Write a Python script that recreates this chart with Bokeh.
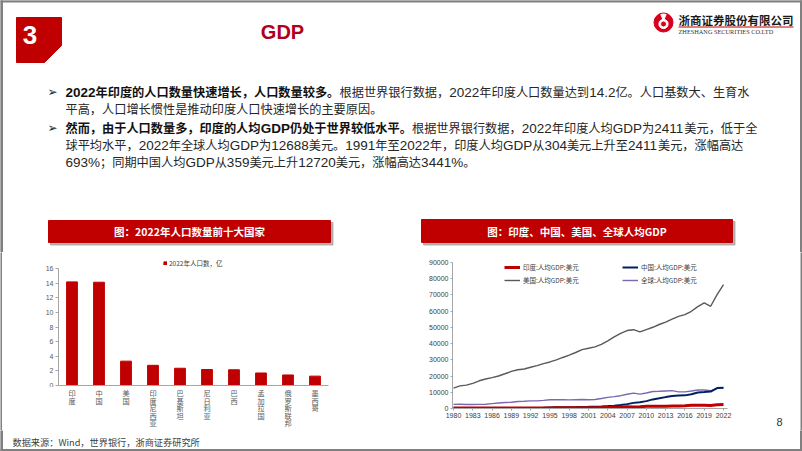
from bokeh.plotting import figure
from bokeh.layouts import column, row
from bokeh.models import (Range1d, ColumnDataSource, Legend, LegendItem, FactorRange,
                          FixedTicker, NumeralTickFormatter)
from bokeh.embed import file_html
from bokeh.resources import INLINE
from bokeh.core.properties import value

# ---------------- data ----------------
countries = ["印度", "中国", "美国", "印度尼西亚", "巴基斯坦", "尼日利亚", "巴西", "孟加拉国", "俄罗斯联邦", "墨西哥"]
population = [14.17, 14.12, 3.33, 2.76, 2.36, 2.19, 2.15, 1.71, 1.44, 1.28]
pop_label = "2022年人口数，亿"

years = list(range(1980, 2023))
india_gdp = [267, 271, 274, 291, 277, 296, 310, 340, 354, 346, 368, 304, 317, 302, 346, 374, 400, 415, 413, 442,
             443, 452, 471, 547, 628, 715, 807, 1028, 999, 1102, 1358, 1458, 1444, 1450, 1574, 1590, 1714, 1958,
             1974, 2050, 1916, 2257, 2411]
china_gdp = [195, 197, 203, 225, 250, 294, 282, 252, 284, 311, 318, 334, 366, 377, 473, 610, 709, 782, 829, 873,
             959, 1053, 1149, 1289, 1509, 1753, 2099, 2694, 3468, 3832, 4550, 5614, 6301, 7020, 7636, 8016, 8094,
             8817, 9905, 10144, 10409, 12618, 12720]
us_gdp = [12553, 13949, 14405, 15514, 17086, 18200, 19073, 20039, 21417, 22857, 23889, 24342, 25419, 26387, 27695,
          28691, 29968, 31459, 32854, 34515, 36330, 37134, 37998, 39490, 41725, 44123, 46302, 48050, 48570, 47195,
          48651, 50066, 51784, 53291, 55124, 56763, 57867, 59915, 62805, 65095, 63028, 70249, 76330]
world_gdp = [2560, 2592, 2509, 2495, 2530, 2601, 3008, 3378, 3707, 3827, 4290, 4444, 4720, 4711, 5001, 5432, 5487,
             5400, 5286, 5427, 5532, 5394, 5546, 6177, 6886, 7352, 7898, 8776, 9480, 8853, 9568, 10510, 10631,
             10817, 11001, 10226, 10268, 10800, 11400, 11380, 10920, 12430, 12688]
series_names = ["印度:人均GDP:美元", "中国:人均GDP:美元", "美国:人均GDP:美元", "全球:人均GDP:美元"]
year_ticks = list(range(1980, 2023, 3))
pop_ticks = list(range(0, 17, 2))
gdp_ticks = list(range(0, 90001, 10000))

section_no = "3"
page_title = "GDP"
company_cn = "浙商证券股份有限公司"
company_en = "ZHESHANG SECURITIES CO.LTD"
chart1_title = "图：2022年人口数量前十大国家"
chart2_title = "图：印度、中国、美国、全球人均GDP"
source_text = "数据来源：Wind，世界银行，浙商证券研究所"
page_no = "8"
body_lines = [
    [("2022年印度的人口数量快速增长，人口数量较多。", True),
     ("根据世界银行数据，2022年印度人口数量达到14.2亿。人口基数大、生育水", False)],
    [("平高，人口增长惯性是推动印度人口快速增长的主要原因。", False)],
    [("然而，由于人口数量多，印度的人均GDP仍处于世界较低水平。", True),
     ("根据世界银行数据，2022年印度人均GDP为2411美元，低于全", False)],
    [("球平均水平，2022年全球人均GDP为12688美元。1991年至2022年，印度人均GDP从304美元上升至2411美元，涨幅高达", False)],
    [("693%；同期中国人均GDP从359美元上升12720美元，涨幅高达3441%。", False)],
]

# ---------------- styles ----------------
RED = "#C00000"
BORDER = "#808080"
CJK = value("Noto Sans CJK SC")
LAT = value("Liberation Sans")
ARIAL_W = {"G": 0.778, "D": 0.722, "P": 0.667, ".": 0.278, "%": 0.889}


def blank(w, h, xr, yr):
    f = figure(width=w, height=h, x_range=xr, y_range=yr, toolbar_location=None,
               output_backend="svg", x_axis_type=None, y_axis_type=None, min_border=0)
    f.grid.visible = False
    f.outline_line_color = None
    return f


def runs(s):
    out = []
    for ch in s:
        lat = ord(ch) < 0x2000
        if out and out[-1][1] == lat:
            out[-1][0] += ch
        else:
            out.append([ch, lat])
    return out


# ---------------- header figure ----------------
HH = 252
head = blank(802, HH, Range1d(0, 802), Range1d(HH, 0))
head.quad(left=[0, 0, 800], right=[802, 2, 802], top=[0, 0, 0], bottom=[1.5, HH, HH], color=BORDER)
head.patch(x=[16, 61, 61, 44, 16], y=[17, 17, 45, 62, 62], color=RED)
head.text(x=[29.5], y=[34], text=[section_no], text_font=LAT, text_font_style="bold",
          text_font_size="26px", text_color="white", text_align="center", text_baseline="middle")
head.text(x=[282], y=[31.5], text=[page_title], text_font=LAT, text_font_style="bold",
          text_font_size="20px", text_color="#B0001E", text_align="center", text_baseline="middle")
# logo
head.circle(x=[663], y=[22], radius=9.5, color="#D6001C")
head.annulus(x=[663], y=[23.5], inner_radius=3.0, outer_radius=4.6, color="white")
head.wedge(x=[663], y=[20], radius=6.5, start_angle=1.15, end_angle=2.0, color="white")
head.text(x=[678], y=[19], text=[company_cn], text_font=CJK, text_font_style="bold",
          text_font_size="11.5px", text_color="#1A1A1A", text_align="left", text_baseline="middle")
head.segment(x0=[678], y0=[26.5], x1=[793], y1=[26.5], color="#C00000", line_width=1)
head.text(x=[678], y=[31], text=[company_en], text_font=value("Liberation Serif"),
          text_font_size="6.3px", text_color="#333333", text_align="left", text_baseline="middle")

# bullets + body text (CJK runs in Noto Sans CJK, Latin runs in Liberation Sans)
FS = 12.2
LS = 13.5
line_y = [91, 108, 127, 144, 161]
head.text(x=[47, 47], y=[91, 127], text=["➢", "➢"], text_font=value("DejaVu Sans"),
          text_font_size="12px", text_color="#222222", text_align="left", text_baseline="middle")
for segs, yy in zip(body_lines, line_y):
    x0 = 65
    for s, b in segs:
        for txt, lat in runs(s):
            head.text(x=[x0], y=[yy + (0.5 if lat else 0)], text=[txt], text_font=LAT if lat else CJK,
                      text_font_style="bold" if b else "normal",
                      text_font_size=f"{LS if lat else FS}px", text_color="#111111" if b else "#262626",
                      text_align="left", text_baseline="middle")
            if lat:
                x0 += sum(ARIAL_W.get(c, 0.556) for c in txt) * LS
            else:
                x0 += len(txt) * FS

# chart title bars
for (l, r, t, b, ttl) in [(48, 330, 220, 242, chart1_title), (421, 732, 219, 242, chart2_title)]:
    head.quad(left=[l + 2], right=[r + 2.5], top=[t + 2], bottom=[b + 2.5], color="#9A9A9A", alpha=0.7)
    head.quad(left=[l], right=[r], top=[t], bottom=[b], color=RED)
    head.text(x=[(l + r) / 2], y=[(t + b) / 2], text=[ttl], text_font=CJK, text_font_style="bold",
              text_font_size="10.5px", text_color="white", text_align="center", text_baseline="middle")

# ---------------- bottom row ----------------
RH = 178


def strip(w):
    f = blank(w, RH, Range1d(0, 1), Range1d(0, 1))
    f.background_fill_color = BORDER
    f.border_fill_color = BORDER
    return f


# left bar chart (frame: page y 259..385; value 16 at page y 268)
PX_PER_UNIT = (385 - 268) / 16.0
top_extra = (268 - 259) / PX_PER_UNIT
xr = FactorRange(*countries, range_padding=0)
pl = figure(width=398, height=135, x_range=xr, y_range=Range1d(0, 16 + top_extra), toolbar_location=None,
            output_backend="svg", min_border_left=56, min_border_right=72, min_border_top=7,
            min_border_bottom=2)
src = ColumnDataSource(dict(c=countries, v=population))
bars = pl.vbar(x="c", top="v", width=0.4, source=src, color=RED)
pl.grid.visible = False
pl.outline_line_color = None
pl.yaxis.ticker = FixedTicker(ticks=pop_ticks)
pl.yaxis.bounds = (0, 16)
pl.yaxis.minor_tick_line_color = None
pl.yaxis.major_tick_in = 0
pl.yaxis.major_tick_out = 3
pl.yaxis.major_label_standoff = 2
pl.yaxis.major_label_text_font = "Liberation Sans"
pl.yaxis.major_label_text_font_size = "7px"
pl.yaxis.major_label_text_color = "#595959"
pl.yaxis.axis_line_color = "#A6A6A6"
pl.yaxis.major_tick_line_color = "#A6A6A6"
pl.xaxis.ticker = FixedTicker(ticks=[])
pl.xaxis.axis_line_color = "#A6A6A6"
pl.xaxis.major_tick_line_color = None
pl.xaxis.major_tick_out = 0
pl.xaxis.major_label_standoff = 0
leg1 = Legend(items=[LegendItem(label=pop_label, renderers=[bars])], location=(105, 117),
              label_text_font_size="6.5px", label_text_font="Noto Sans CJK SC", label_text_color="#404040",
              glyph_width=4, glyph_height=4, label_standoff=2, padding=0, margin=0, label_height=8,
              background_fill_alpha=0, border_line_color=None)
pl.add_layout(leg1)

# vertical (stacked) category labels, positioned on the shared category scale
LH = RH - 135
lab = figure(width=398, height=LH, x_range=xr, y_range=Range1d(LH, 0), toolbar_location=None,
             output_backend="svg", x_axis_type=None, y_axis_type=None,
             min_border_left=56, min_border_right=72, min_border_top=0, min_border_bottom=0)
lab.grid.visible = False
lab.outline_line_color = None
cx, cy, ct = [], [], []
for c in countries:
    for k, ch in enumerate(c):
        cx.append(c)
        cy.append(5.5 + 7.6 * k)
        ct.append(ch)
lab.text(x=cx, y=cy, text=ct, text_font=CJK, text_font_size="7.2px", text_color="#595959",
         text_align="center", text_baseline="middle")

# right line chart (frame: page y 262..408)
pr = figure(width=345, height=RH, x_range=Range1d(1979.844, 2022.62), y_range=Range1d(0, 90000),
            toolbar_location=None, output_backend="svg",
            min_border_left=52, min_border_right=18, min_border_top=10, min_border_bottom=22)
pr.grid.visible = False
pr.outline_line_color = None
r_us = pr.line(years, us_gdp, color="#595959", line_width=1.4)
r_world = pr.line(years, world_gdp, color="#7B68B0", line_width=1.4)
r_china = pr.line(years, china_gdp, color="#002060", line_width=2)
r_india = pr.line(years, india_gdp, color=RED, line_width=3)
pr.xaxis.ticker = FixedTicker(ticks=year_ticks)
pr.yaxis.ticker = FixedTicker(ticks=gdp_ticks)
pr.yaxis.formatter = NumeralTickFormatter(format="0")
for ax in (pr.xaxis, pr.yaxis):
    ax.axis_line_color = "#A6A6A6"
    ax.major_tick_line_color = "#A6A6A6"
    ax.major_tick_in = 0
    ax.major_tick_out = 2
    ax.minor_tick_line_color = None
    ax.major_label_standoff = 2
    ax.major_label_text_font = "Liberation Sans"
    ax.major_label_text_font_size = "7px"
    ax.major_label_text_color = "#404040"
leg2 = Legend(items=[LegendItem(label=series_names[0], renderers=[r_india]),
                     LegendItem(label=series_names[1], renderers=[r_china]),
                     LegendItem(label=series_names[2], renderers=[r_us]),
                     LegendItem(label=series_names[3], renderers=[r_world])],
              orientation="horizontal", ncols=2, location=(52, 123),
              label_text_font_size="6.5px", label_text_font="Noto Sans CJK SC", label_text_color="#404040",
              glyph_width=16, glyph_height=8, label_standoff=3, padding=0, margin=0, spacing=3,
              label_height=10, label_width=96, background_fill_alpha=0, border_line_color=None)
pr.add_layout(leg2)

pad = blank(55, RH, Range1d(0, 55), Range1d(RH, 0))
pad.text(x=[34], y=[169], text=[page_no], text_font=LAT, text_font_size="11px",
         text_color="#333333", text_align="center", text_baseline="middle")

# footer
FH = 21
foot = blank(802, FH, Range1d(0, 802), Range1d(FH, 0))
foot.quad(left=[0, 800, 0], right=[2, 802, 802], top=[0, 0, 19], bottom=[FH, FH, FH], color=BORDER)
foot.text(x=[12], y=[11], text=[source_text], text_font=CJK, text_font_size="9.2px",
          text_color="#404040", text_align="left", text_baseline="middle")

bottom = row(column(strip(2)), column(pl, lab), column(pr), column(pad), column(strip(2)))
layout = column(head, bottom, foot)
open("out.html", "w").write(file_html(layout, INLINE))
